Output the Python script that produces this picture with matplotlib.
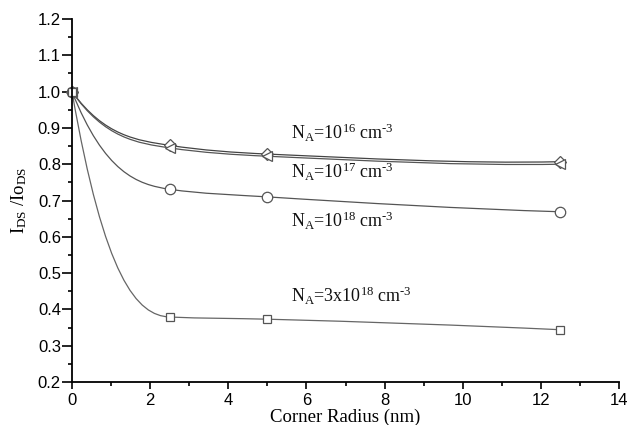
import numpy as np
import matplotlib
matplotlib.use("Agg")
import matplotlib.pyplot as plt
from matplotlib.path import Path
from matplotlib.patches import PathPatch

plt.rcParams['mathtext.fontset'] = 'custom'
plt.rcParams['mathtext.rm'] = 'Liberation Serif'
plt.rcParams['mathtext.it'] = 'Liberation Serif:italic'

# ---- data ----
radius = [0, 2.5, 5, 12.5]
na_1e16 = [1.0, 0.852, 0.828, 0.807]
na_1e17 = [1.0, 0.845, 0.822, 0.800]
na_1e18 = [1.0, 0.731, 0.710, 0.669]
na_3e18 = [1.0, 0.379, 0.373, 0.344]

labels = [r'N$_{\mathrm{A}}$=10$^{\mathrm{16}}$ cm$^{\text{-3}}$',
          r'N$_{\mathrm{A}}$=10$^{\mathrm{17}}$ cm$^{\text{-3}}$',
          r'N$_{\mathrm{A}}$=10$^{\mathrm{18}}$ cm$^{\text{-3}}$',
          r'N$_{\mathrm{A}}$=3x10$^{\mathrm{18}}$ cm$^{\text{-3}}$']
label_x = [5.6, 5.6, 5.6, 5.6]
label_y = [0.885, 0.779, 0.644, 0.437]

x_ticks = [0, 2, 4, 6, 8, 10, 12, 14]
y_ticks = [0.2, 0.3, 0.4, 0.5, 0.6, 0.7, 0.8, 0.9, 1.0, 1.1, 1.2]


def smooth_path(x, y, start_factor=2.5):
    """Bezier path (rendered by matplotlib) through the data points."""
    x = np.asarray(x, float)
    y = np.asarray(y, float)
    h = np.diff(x)
    d = np.diff(y) / h
    n = len(x)
    m = np.zeros(n)
    for i in range(1, n - 1):
        if d[i - 1] * d[i] <= 0:
            m[i] = 0
        else:
            w1 = 2 * h[i] + h[i - 1]
            w2 = h[i] + 2 * h[i - 1]
            m[i] = (w1 + w2) / (w1 / d[i - 1] + w2 / d[i])
    m[0] = start_factor * d[0]
    m[-1] = ((2 * h[-1] + h[-2]) * d[-1] - h[-1] * d[-2]) / (h[-1] + h[-2])
    verts = [(x[0], y[0])]
    codes = [Path.MOVETO]
    for i in range(n - 1):
        verts += [(x[i] + h[i] / 3, y[i] + m[i] * h[i] / 3),
                  (x[i + 1] - h[i] / 3, y[i + 1] - m[i + 1] * h[i] / 3),
                  (x[i + 1], y[i + 1])]
        codes += [Path.CURVE4] * 3
    return Path(verts, codes)


fig = plt.figure(figsize=(6.31, 4.25), dpi=100)
ax = fig.add_axes([0.1141, 0.1012, 0.8669, 0.854])

series = [na_1e16, na_1e17, na_1e18, na_3e18]
markers = ['D', '<', 'o', 's']
msizes = [6.5, 7.5, 7.5, 5.5]
line_colors = ['#444444', '#555555', '#555555', '#666666']
for vals, mk, ms, lc in zip(series, markers, msizes, line_colors):
    ax.add_patch(PathPatch(smooth_path(radius, vals), facecolor='none',
                           edgecolor=lc, lw=0.9, zorder=2))
    ax.plot(radius, vals, linestyle='none', marker=mk, ms=ms,
            mfc='white', mec='#555555', mew=0.9, zorder=3, clip_on=False)

for lab, lx, ly in zip(labels, label_x, label_y):
    ax.text(lx, ly, lab, fontsize=13, family='Liberation Serif',
            ha='left', va='center', color='#111111')

ax.set_xlim(0, 14)
ax.set_ylim(0.2, 1.2)
ax.set_xticks(x_ticks)
ax.set_yticks(y_ticks)
ax.set_xticks(np.arange(1, 14, 2), minor=True)
ax.set_yticks(np.arange(0.25, 1.2, 0.1), minor=True)
ax.set_xticklabels([str(v) for v in x_ticks])
ax.set_yticklabels([f'{v:.1f}' for v in y_ticks])

for s in ['top', 'right']:
    ax.spines[s].set_visible(False)
for s in ['left', 'bottom']:
    ax.spines[s].set_linewidth(1.3)
    ax.spines[s].set_zorder(4)

ax.tick_params(axis='x', which='major', direction='out', length=5,
               width=1.2, labelsize=12, pad=3)
ax.tick_params(axis='y', which='major', direction='out', length=7,
               width=1.2, labelsize=12, pad=1)
ax.tick_params(axis='both', which='minor', direction='out', length=3,
               width=1.2)
for lab in ax.get_xticklabels() + ax.get_yticklabels():
    lab.set_family('Liberation Sans')

ax.set_xlabel('Corner Radius (nm)', family='Liberation Serif', fontsize=13.5,
              labelpad=0.5)
ax.set_ylabel(r'I$_{\mathrm{DS}}$ /Io$_{\mathrm{DS}}$', family='Liberation Serif',
              fontsize=13.5, labelpad=6)

fig.savefig('out.png', dpi=100)
